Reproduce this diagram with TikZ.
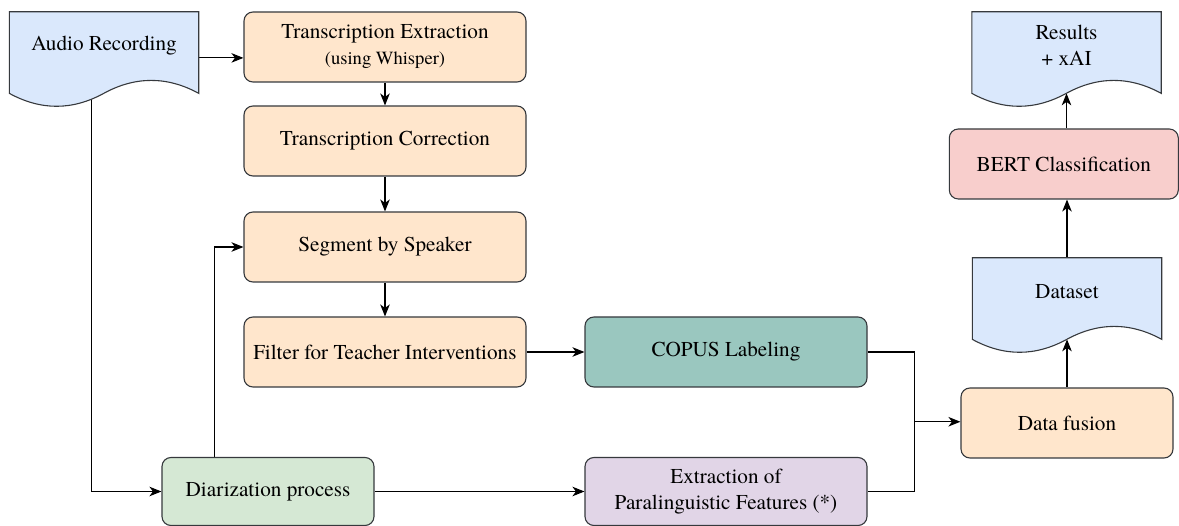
\documentclass[tikz,border=0pt]{standalone}
\usepackage{fontspec}
\setmainfont{TeX Gyre Termes}
\usetikzlibrary{arrows.meta,calc}
\definecolor{orangef}{HTML}{FFE6CC}
\definecolor{bluef}{HTML}{DAE8FC}
\definecolor{greenf}{HTML}{D5E8D4}
\definecolor{purplef}{HTML}{E1D5E7}
\definecolor{redf}{HTML}{F8CECC}
\definecolor{tealf}{HTML}{9AC7BF}
\definecolor{strokec}{HTML}{36393D}
\newcommand\mainfs{\fontsize{21.2}{26}\selectfont}
\newcommand\smallfs{\fontsize{18.6}{26}\selectfont}
\pgfdeclarelayer{connlayer}
\pgfdeclarelayer{shapelayer}
\pgfsetlayers{connlayer,shapelayer,main}
\newcommand\docshape[2]{%
  \begin{pgfonlayer}{shapelayer}
  \path[draw=strokec, line width=1.1pt, fill=#2]
    (#1.north west) -- (#1.north east) -- ($(#1.south east)+(0,14.35)$)
    .. controls ($(#1.south east)+(-31.5,-2.9)$) and ($(#1.south west)+(126,-2.9)$) .. ($(#1.south west)+(94.5,14.35)$)
    .. controls ($(#1.south west)+(63,31.6)$) and ($(#1.south west)+(31.5,31.6)$) .. ($(#1.south west)+(0,14.35)$)
    -- cycle;
  \end{pgfonlayer}}
\tikzset{
  box/.style={draw=strokec, line width=1.1pt, rounded corners=9pt, align=center, inner sep=0pt, font=\mainfs},
  orangebox/.style={box, fill=orangef, minimum width=282pt, minimum height=70pt},
  docnode/.style={inner sep=0pt, minimum width=189pt, minimum height=66.8pt, align=center, font=\mainfs},
  conn/.style={draw=black, line width=1.1pt},
  arr/.style={conn, -{Stealth[length=12pt,width=9.5pt,inset=3.5pt]}},
}
\begin{document}
\begin{tikzpicture}[x=1pt,y=-1pt]
\useasboundingbox (0,0) rectangle (1179,526);
% document shapes
\node[docnode] (audio) at (104,45.4) {Audio Recording};
\docshape{audio}{bluef}
\node[docnode] (results) at (1066.5,45.4) {Results\\+ xAI};
\docshape{results}{bluef}
\node[docnode] (dataset) at (1067,291.4) {Dataset};
\docshape{dataset}{bluef}
% process boxes
\node[orangebox] (te) at (385,47) {Transcription Extraction\\{\smallfs (using Whisper)}};
\node[orangebox] (tc) at (385,141) {Transcription Correction};
\node[orangebox] (ss) at (385,247) {Segment by Speaker};
\node[orangebox] (filt) at (385,352) {Filter for Teacher Interventions};
\node[box, fill=tealf, minimum width=282pt, minimum height=70pt] (copus) at (726,352) {COPUS Labeling};
\node[box, fill=purplef, minimum width=282pt, minimum height=68pt] (para) at (726,491.5) {Extraction of\\Paralinguistic Features (*)};
\node[box, fill=greenf, minimum width=212pt, minimum height=68pt] (diar) at (268,491.5) {Diarization process};
\node[box, fill=orangef, minimum width=212pt, minimum height=70pt] (fusion) at (1067,423) {Data fusion};
\node[box, fill=redf, minimum width=229pt, minimum height=70pt] (bert) at (1063.8,164) {BERT Classification};
% connectors
\begin{pgfonlayer}{connlayer}
\draw[arr] ($(audio.east)+(0,12.5)$) coordinate (a1) -- (a1 -| te.west);
\draw[arr] (te.south) -- (tc.north);
\draw[arr] (tc.south) -- (ss.north);
\draw[arr] (ss.south) -- (filt.north);
\draw[arr] (filt.east) -- (copus.west);
\draw[arr] ($(audio.south west)+(82.5,0)$) coordinate (a2) |- (diar.west);
\draw[arr] ($(diar.north west)+(53,0)$) coordinate (a3) |- (ss.west);
\draw[arr] (diar.east) -- (para.west);
\coordinate (m) at ($(copus.east)!0.5!(para.east)+(47,0)$);
\draw[conn] (copus.east) -| (m) |- (para.east);
\draw[arr] (m) -- (m -| fusion.west);
\coordinate (dsb) at ($(dataset.south)+(0,14.35)$);
\draw[arr] (fusion.north) -- (dsb);
\draw[arr] (dataset.north) -- (dataset.north |- bert.south);
\coordinate (rsb) at ($(results.south)+(0,14.35)$);
\draw[arr] (rsb |- bert.north) -- (rsb);
\end{pgfonlayer}
\end{tikzpicture}
\end{document}
